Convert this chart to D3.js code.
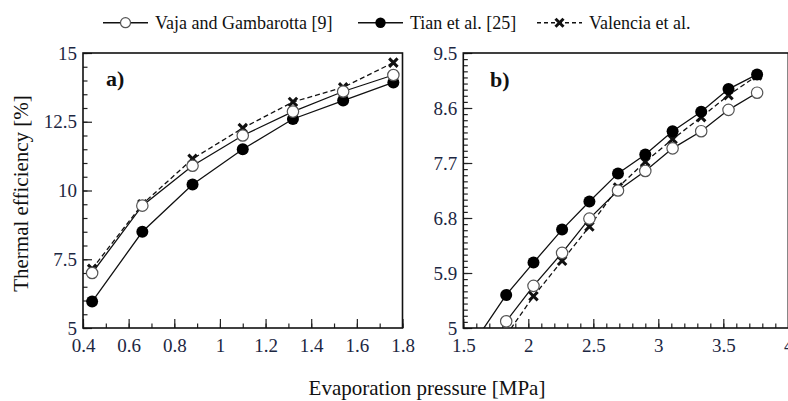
<!DOCTYPE html>
<html>
<head>
<meta charset="utf-8">
<script src="https://cdn.jsdelivr.net/npm/d3@7/dist/d3.min.js"></script>
<style>
  html, body { margin: 0; padding: 0; background: #fff; }
  svg { display: block; font-family: "Liberation Serif", "Times New Roman", serif; }
</style>
</head>
<body>
<svg id="chart" width="788" height="401"></svg>
<script>
// ---------------- data ----------------
const seriesNames = ["Vaja and Gambarotta [9]", "Tian et al. [25]", "Valencia et al."];

// panel a)
const xA = [0.44, 0.66, 0.88, 1.10, 1.32, 1.54, 1.76];
const vajaA = [7.0, 9.45, 10.9, 12.0, 12.87, 13.6, 14.2];
const tianA = [5.96, 8.5, 10.22, 11.5, 12.6, 13.27, 13.93];
const valenciaA = [7.15, 9.5, 11.15, 12.27, 13.22, 13.75, 14.65];

// panel b)
const xB = [1.62, 1.83, 2.04, 2.26, 2.47, 2.69, 2.90, 3.11, 3.33, 3.54, 3.76];
const vajaB = [null, 5.11, 5.69, 6.23, 6.79, 7.25, 7.57, 7.94, 8.22, 8.57, 8.85];
const tianB = [4.88, 5.54, 6.07, 6.61, 7.07, 7.53, 7.84, 8.22, 8.54, 8.91, 9.15];
const valenciaB = [null, 4.88, 5.52, 6.10, 6.66, 7.30, 7.72, 8.09, 8.45, 8.81, 9.13];

// tick labels
const xTicksA = [0.4, 0.6, 0.8, 1.0, 1.2, 1.4, 1.6, 1.8];
const xTickLabelsA = ["0.4", "0.6", "0.8", "1", "1.2", "1.4", "1.6", "1.8"];
const yTicksA = [5, 7.5, 10, 12.5, 15];
const yTickLabelsA = ["5", "7.5", "10", "12.5", "15"];
const xTicksB = [1.5, 2, 2.5, 3, 3.5, 4];
const xTickLabelsB = ["1.5", "2", "2.5", "3", "3.5", "4"];
const yTicksB = [5, 5.9, 6.8, 7.7, 8.6, 9.5];
const yTickLabelsB = ["5", "5.9", "6.8", "7.7", "8.6", "9.5"];

const xTitle = "Evaporation pressure [MPa]";
const yTitle = "Thermal efficiency [%]";

// ---------------- drawing ----------------
const svg = d3.select("#chart");
const tickColor = "#1c2742";

const panels = [
  { id: "a", label: "a)", x: xA, xDomain: [0.4, 1.8], xRange: [83, 402.5], yDomain: [5, 15],
    xTicks: xTicksA, xLabels: xTickLabelsA, yTicks: yTicksA, yLabels: yTickLabelsA,
    xMinorStep: 0.1, yMinorStep: 0.5,
    vaja: vajaA, tian: tianA, valencia: valenciaA, labelPos: [106, 86] },
  { id: "b", label: "b)", x: xB, xDomain: [1.5, 4], xRange: [463.3, 788.3], yDomain: [5, 9.5],
    xTicks: xTicksB, xLabels: xTickLabelsB, yTicks: yTicksB, yLabels: yTickLabelsB,
    xMinorStep: 0.1, yMinorStep: 0.1,
    vaja: vajaB, tian: tianB, valencia: valenciaB, labelPos: [490, 87] }
];

const yRange = [328, 53];

function minorTicks(domain, step) {
  const n = Math.round((domain[1] - domain[0]) / step);
  return d3.range(0, n + 1).map(i => +(domain[0] + i * step).toFixed(4));
}

function xMarkPath(cx, cy, s) {
  return `M${cx - s},${cy - s}L${cx + s},${cy + s}M${cx - s},${cy + s}L${cx + s},${cy - s}`;
}

panels.forEach(p => {
  const x = d3.scaleLinear().domain(p.xDomain).range(p.xRange);
  const y = d3.scaleLinear().domain(p.yDomain).range(yRange);
  const g = svg.append("g");

  // clip
  const clipId = "clip-" + p.id;
  svg.append("clipPath").attr("id", clipId).append("rect")
    .attr("x", p.xRange[0]).attr("y", yRange[1])
    .attr("width", p.xRange[1] - p.xRange[0]).attr("height", yRange[0] - yRange[1]);

  // minor ticks
  const xMinor = minorTicks(p.xDomain, p.xMinorStep);
  const yMinor = minorTicks(p.yDomain, p.yMinorStep);

  const gxMinor = g.append("g").attr("transform", `translate(0,${yRange[0]})`)
    .call(d3.axisBottom(x).tickValues(xMinor).tickSize(-4.5).tickFormat(""));
  const gyMinor = g.append("g").attr("transform", `translate(${p.xRange[0]},0)`)
    .call(d3.axisLeft(y).tickValues(yMinor).tickSize(-4.5).tickFormat(""));

  // major ticks + labels
  const gx = g.append("g").attr("transform", `translate(0,${yRange[0]})`)
    .call(d3.axisBottom(x).tickValues(p.xTicks).tickSize(-9).tickPadding(10.5)
      .tickFormat((d, i) => p.xLabels[i]));
  const gy = g.append("g").attr("transform", `translate(${p.xRange[0]},0)`)
    .call(d3.axisLeft(y).tickValues(p.yTicks).tickSize(-9).tickPadding(6)
      .tickFormat((d, i) => p.yLabels[i]));

  [gxMinor, gyMinor, gx, gy].forEach(a => {
    a.select(".domain").remove();
    a.selectAll(".tick line").attr("stroke", "#222").attr("stroke-width", 1.2);
    a.selectAll(".tick text").attr("fill", tickColor)
      .style("font-family", '"Liberation Serif", serif').style("font-size", "19px");
  });

  // frame
  g.append("rect")
    .attr("x", p.xRange[0]).attr("y", yRange[1])
    .attr("width", p.xRange[1] - p.xRange[0]).attr("height", yRange[0] - yRange[1])
    .attr("fill", "none").attr("stroke", "#111").attr("stroke-width", 1.6);

  // series
  const sg = g.append("g").attr("clip-path", `url(#${clipId})`);

  function pts(vals) {
    return p.x.map((xv, i) => ({ x: xv, y: vals[i] })).filter(d => d.y !== null);
  }
  const line = d3.line().x(d => x(d.x)).y(d => y(d.y));

  // Valencia (dashed, X markers)
  const vl = pts(p.valencia);
  sg.append("path").attr("d", line(vl)).attr("fill", "none")
    .attr("stroke", "#111").attr("stroke-width", 1.3).attr("stroke-dasharray", "5,3");
  sg.selectAll(".xm").data(vl).enter().append("path")
    .attr("d", d => xMarkPath(x(d.x), y(d.y), 4.2))
    .attr("stroke", "#111").attr("stroke-width", 3).attr("fill", "none");

  // Tian (solid, filled circles)
  const tl = pts(p.tian);
  sg.append("path").attr("d", line(tl)).attr("fill", "none")
    .attr("stroke", "#111").attr("stroke-width", 1.3);
  sg.selectAll(".fc").data(tl).enter().append("circle")
    .attr("cx", d => x(d.x)).attr("cy", d => y(d.y)).attr("r", 6)
    .attr("fill", "#000");

  // Vaja (solid, open circles)
  const vv = pts(p.vaja);
  sg.append("path").attr("d", line(vv)).attr("fill", "none")
    .attr("stroke", "#111").attr("stroke-width", 1.3);
  sg.selectAll(".oc").data(vv).enter().append("circle")
    .attr("cx", d => x(d.x)).attr("cy", d => y(d.y)).attr("r", 5.7)
    .attr("fill", "#fff").attr("stroke", "#555").attr("stroke-width", 1.2);

  // panel label
  g.append("text").attr("x", p.labelPos[0]).attr("y", p.labelPos[1])
    .attr("font-weight", "bold").attr("font-size", 22).attr("fill", "#111")
    .text(p.label);
});

// axis titles
svg.append("text")
  .attr("transform", "translate(28,193.5) rotate(-90)")
  .attr("text-anchor", "middle").attr("font-size", 21).attr("fill", "#111")
  .text(yTitle);
svg.append("text")
  .attr("x", 427).attr("y", 395)
  .attr("text-anchor", "middle").attr("font-size", 21).attr("fill", "#111")
  .text(xTitle);

// legend
const legend = svg.append("g");
const legY = 22.7;
const legItems = [
  { x0: 103, type: "open" },
  { x0: 358, type: "filled" },
  { x0: 537, type: "cross" }
];
legItems.forEach((it, i) => {
  const cx = it.x0 + 22.5;
  legend.append("line").attr("x1", it.x0).attr("x2", it.x0 + 45)
    .attr("y1", legY).attr("y2", legY)
    .attr("stroke", "#111").attr("stroke-width", 1.6)
    .attr("stroke-dasharray", it.type === "cross" ? "4,3" : null);
  if (it.type === "open") {
    legend.append("circle").attr("cx", cx).attr("cy", legY).attr("r", 5)
      .attr("fill", "#fff").attr("stroke", "#555").attr("stroke-width", 1.2);
  } else if (it.type === "filled") {
    legend.append("circle").attr("cx", cx).attr("cy", legY).attr("r", 5.2).attr("fill", "#000");
  } else {
    legend.append("path").attr("d", xMarkPath(cx, legY, 4)).attr("stroke", "#111")
      .attr("stroke-width", 3).attr("fill", "none");
  }
  legend.append("text").attr("x", it.x0 + 52).attr("y", legY + 6)
    .attr("font-size", 18).attr("fill", "#111").text(seriesNames[i]);
});
</script>
</body>
</html>
